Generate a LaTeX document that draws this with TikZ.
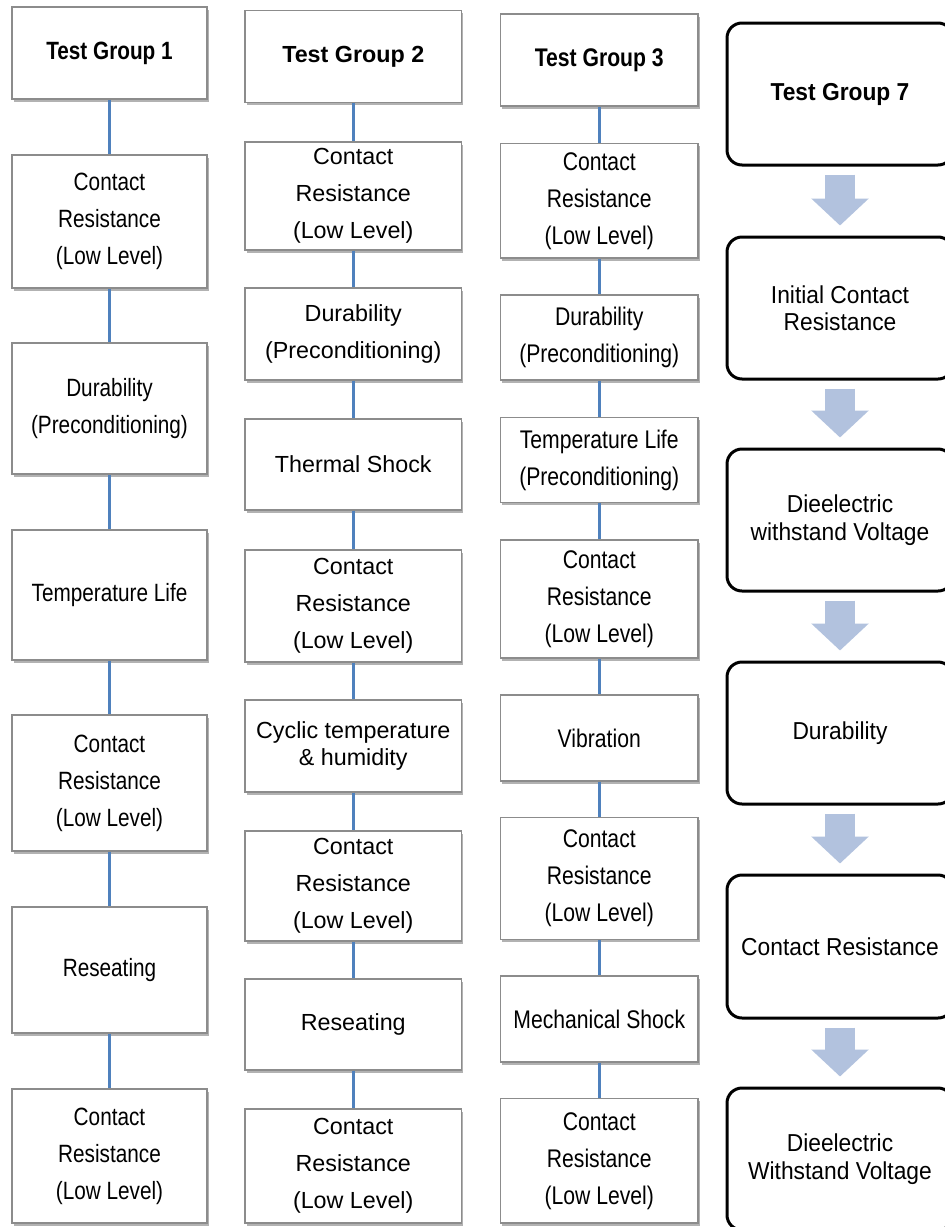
\documentclass[tikz,border=0pt]{standalone}
\usepackage{fontspec}
\newfontfamily\sansA{Liberation Sans}[FakeStretch=0.83]
\newfontfamily\sansB{Liberation Sans}
\newfontfamily\sansD{Liberation Sans}[FakeStretch=0.93]
\usetikzlibrary{shadows,arrows.meta}
\definecolor{boxgray}{RGB}{140,140,140}
\definecolor{connblue}{RGB}{79,129,189}
\definecolor{arrblue}{RGB}{178,194,222}
\newcommand\mybox[7]{\node[#1, minimum width={(#5)-(#3)}, minimum height={(#6)-(#4)}] (#2) at ({((#3)+(#5))/2},{((#4)+(#6))/2}) {#7};}
\begin{document}
\begin{tikzpicture}[x=1pt,y=-1pt,
  sqbox/.style={draw=boxgray, line width=1.3pt, fill=white, align=center, inner sep=0pt,
    drop shadow={shadow xshift=1.5pt, shadow yshift=-2.5pt, opacity=0.3, fill=black}},
  cA/.style={sqbox, font=\sansA\fontsize{25}{37}\selectfont},
  cB/.style={sqbox, font=\sansB\fontsize{23.3}{37}\selectfont},
  cC/.style={sqbox, font=\sansA\fontsize{25.5}{37}\selectfont},
  rbox/.style={draw=black, line width=3pt, rounded corners=15pt, fill=white, align=center, inner sep=0pt,
    font=\sansD\fontsize{24.5}{27.5}\selectfont},
  conn/.style={draw=connblue, line width=3.5pt},
  bigarrow/.style={draw=arrblue, line width=30pt, -{Triangle[width=56pt,length=27pt]}}
]
\clip (0,0) rectangle (945,1227);
\fill[white] (0,0) rectangle (945,1227);

% Column 1
\mybox{cA}{a1}{12}{7}{207}{99}{\textbf{Test Group 1}}
\mybox{cA}{a2}{12}{155}{207}{288}{Contact\\Resistance\\(Low Level)}
\mybox{cA}{a3}{12}{343}{207}{474}{Durability\\(Preconditioning)}
\mybox{cA}{a4}{12}{530}{207}{660}{Temperature Life}
\mybox{cA}{a5}{12}{715}{207}{851}{Contact\\Resistance\\(Low Level)}
\mybox{cA}{a6}{12}{907}{207}{1033}{Reseating}
\mybox{cA}{a7}{12}{1089}{207}{1223}{Contact\\Resistance\\(Low Level)}

% Column 2
\mybox{cB}{b1}{245}{10.5}{461.5}{102.5}{\textbf{Test Group 2}}
\mybox{cB}{b2}{245}{142}{461.5}{250}{Contact\\Resistance\\(Low Level)}
\mybox{cB}{b3}{245}{288}{461.5}{380}{Durability\\(Preconditioning)}
\mybox{cB}{b4}{245}{419}{461.5}{510}{Thermal Shock}
\mybox{cB}{b5}{245}{550}{461.5}{662}{Contact\\Resistance\\(Low Level)}
\mybox{cB,font=\sansB\fontsize{23.3}{27}\selectfont}{b6}{245}{700}{461.5}{792}{Cyclic temperature\\\& humidity}
\mybox{cB}{b7}{245}{831}{461.5}{941}{Contact\\Resistance\\(Low Level)}
\mybox{cB}{b8}{245}{979}{461.5}{1070}{Reseating}
\mybox{cB}{b9}{245}{1109}{461.5}{1223}{Contact\\Resistance\\(Low Level)}

% Column 3
\mybox{cC}{c1}{500.5}{14}{698}{106}{\textbf{Test Group 3}}
\mybox{cC}{c2}{500.5}{143.5}{698}{258}{Contact\\Resistance\\(Low Level)}
\mybox{cC}{c3}{500.5}{295}{698}{380}{Durability\\(Preconditioning)}
\mybox{cC}{c4}{500.5}{417.5}{698}{502.5}{Temperature Life\\(Preconditioning)}
\mybox{cC}{c5}{500.5}{540}{698}{658}{Contact\\Resistance\\(Low Level)}
\mybox{cC}{c6}{500.5}{695}{698}{781}{Vibration}
\mybox{cC}{c7}{500.5}{817.5}{698}{939.5}{Contact\\Resistance\\(Low Level)}
\mybox{cC}{c8}{500.5}{976}{698}{1062}{Mechanical Shock}
\mybox{cC}{c9}{500.5}{1098.5}{698}{1223}{Contact\\Resistance\\(Low Level)}

% Column 4
\mybox{rbox}{d1}{727}{23}{953}{165}{\textbf{Test Group 7}}
\mybox{rbox}{d2}{727}{237}{953}{379}{Initial Contact\\Resistance}
\mybox{rbox}{d3}{727}{449}{953}{591}{Dieelectric\\withstand Voltage}
\mybox{rbox}{d4}{727}{662}{953}{804}{Durability}
\mybox{rbox}{d5}{727}{875}{953}{1018}{Contact Resistance}
\mybox{rbox}{d6}{727}{1088}{953}{1230}{Dieelectric\\Withstand Voltage}

% Connectors
\foreach \col/\n in {a/7,b/9,c/9}{
  \foreach \i [evaluate=\i as \j using int(\i+1)] in {1,...,8}{
    \ifnum\i<\n
      \draw[conn] (\col\i) -- (\col\j);
    \fi
  }
}
\foreach \i [evaluate=\i as \j using int(\i+1)] in {1,...,5}{
  \draw[bigarrow] ([yshift=-8pt]d\i.south) -- ([yshift=10pt]d\j.north);
}
\end{tikzpicture}
\end{document}
